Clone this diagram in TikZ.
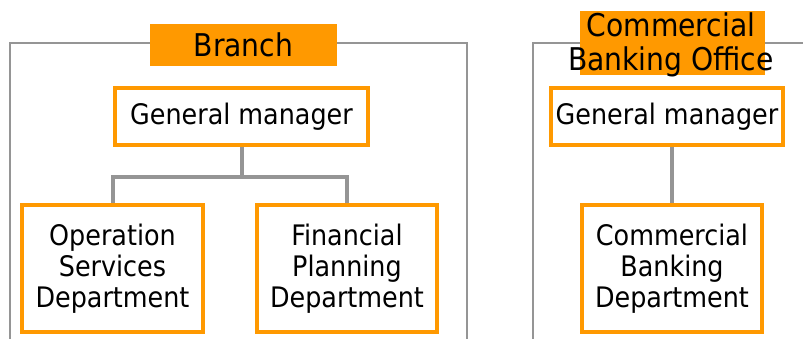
\documentclass[tikz,border=0pt]{standalone}
\usepackage{fontspec}
\setmainfont{DejaVu Sans Condensed}
\usepackage{tikz}
\usetikzlibrary{positioning,calc}
\definecolor{boxline}{HTML}{FF9900}
\definecolor{frameline}{HTML}{959595}

\begin{document}
\begin{tikzpicture}[x=0.75pt, y=-0.75pt,
        unitbox/.style={rectangle, draw=boxline, fill=white, line width=2.5pt,
          inner sep=0pt, align=center, font=\fontsize{21.2}{23.3}\selectfont},
        titlebox/.style={rectangle, fill=boxline, inner sep=0pt,
          align=center, font=\fontsize{23.5}{26}\selectfont},
        frame/.style={draw=frameline, line width=2pt},
        link/.style={draw=frameline, line width=3pt},
      ]
      \useasboundingbox (0,0) rectangle (803,339);

      % Left unit: branch
      \draw[frame] (150,43) -- (10,43) -- (10,345);
      \draw[frame] (337,43) -- (467,43) -- (467,345);
      \node[titlebox, minimum width=187*0.75pt, minimum height=42*0.75pt]
        (labA) at (243.5,45) {Branch};

      \node[unitbox, minimum width=253*0.75pt, minimum height=57*0.75pt]
        (gmA) at (241.5,116.5) {General manager};
      \node[unitbox, minimum width=181*0.75pt, minimum height=127*0.75pt]
        (opsA) at (112.5,268.5) {Operation\\Services\\Department};
      \node[unitbox, minimum width=180*0.75pt, minimum height=127*0.75pt]
        (finA) at (347,268.5) {Financial\\Planning\\Department};

      \coordinate (jA) at ($(gmA.south)+(0,30)$);
      \draw[link] (gmA.south) -- (jA);
      \draw[link] (jA) -| (opsA.north);
      \draw[link] (jA) -| (finA.north);

      % Right unit: commercial banking office
      \draw[frame] (580,43) -- (533,43) -- (533,345);
      \draw[frame] (765,43) -- (810,43);
      \node[titlebox, minimum width=185*0.75pt, minimum height=64*0.75pt]
        (labB) at (672.5,43) {};
      \node[align=center, inner sep=0pt, font=\fontsize{23.5}{26}\selectfont]
        (labBtext) at (671,45) {Commercial\\Banking Office};

      \node[unitbox, minimum width=232*0.75pt, minimum height=57*0.75pt]
        (gmB) at (667,116.5) {General manager};
      \node[unitbox, minimum width=180*0.75pt, minimum height=127*0.75pt]
        (cbdB) at (672,268.5) {Commercial\\Banking\\Department};

      \draw[link] (gmB.south -| cbdB.north) -- (cbdB.north);
    \end{tikzpicture}
\end{document}
